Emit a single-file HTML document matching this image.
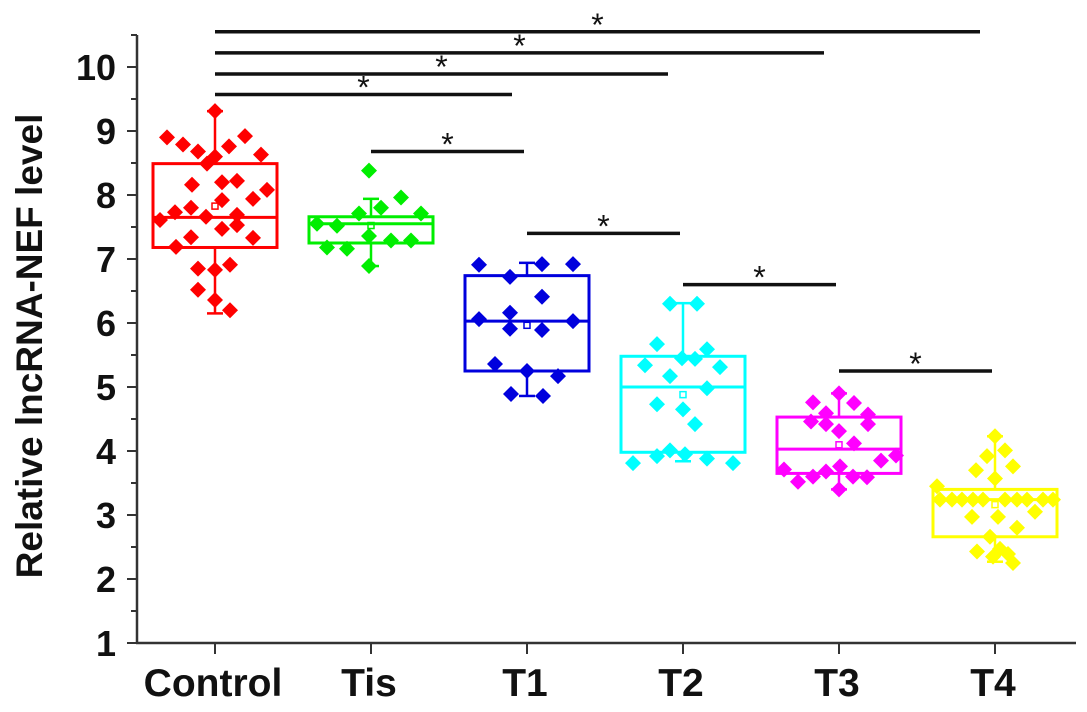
<!DOCTYPE html>
<html><head><meta charset="utf-8"><style>
body{margin:0;background:#fff}
svg{display:block;font-family:"Liberation Sans",Arial,sans-serif;font-weight:bold}
</style></head><body>
<svg id="chart" width="1087" height="712" viewBox="0 0 1087 712" xmlns="http://www.w3.org/2000/svg"></svg>
<script>
const categories = ["Control","Tis","T1","T2","T3","T4"];
const colors = ["#ff0000","#00ee00","#0000dd","#00ffff","#ff00ff","#ffff00"];
const boxQ3 = [8.49,7.66,6.74,5.48,4.53,3.40];
const boxMedian = [7.65,7.55,6.03,5.00,4.03,3.24];
const boxQ1 = [7.18,7.25,5.25,3.98,3.65,2.66];
const whiskerHigh = [9.31,7.94,6.94,6.31,4.90,4.23];
const whiskerLow = [6.15,6.89,4.86,3.84,3.40,2.27];
const pointsControl = [9.31,8.90,8.79,8.68,8.60,8.76,8.92,8.63,8.49,8.16,8.20,8.22,8.08,7.92,7.94,7.80,7.73,7.61,7.66,7.69,7.53,7.47,7.34,7.33,7.19,6.85,6.83,6.91,6.52,6.36,6.20];
const jitterControl = [0,-48,-32,-17,0,14,30,46,-8,-23,7,22,52,7,38,-24,-40,-55,-9,22,22,7,-24,38,-39,-17,0,15,-17,0,15];
const pointsTis = [8.38,7.96,7.80,7.71,7.71,7.55,7.52,7.36,7.29,7.29,7.18,7.16,6.89];
const jitterTis = [-2,30,10,-12,50,-54,-34,-2,20,40,-44,-24,-2];
const pointsT1 = [6.91,6.92,6.92,6.72,6.41,6.06,6.16,5.91,5.89,6.03,5.36,5.25,5.17,4.89,4.86];
const jitterT1 = [-48,15,46,-17,15,-48,-17,-17,15,46,-32,0,31,-16,16];
const pointsT2 = [6.30,6.30,5.67,5.34,5.45,5.44,5.59,5.31,5.17,4.98,4.73,4.65,4.42,4.01,3.92,3.95,3.81,3.88,3.81];
const jitterT2 = [-13,14,-26,-38,-1,12,24,37,-13,24,-26,0,12,-13,-26,2,-50,24,50];
const pointsT3 = [4.90,4.76,4.75,4.59,4.57,4.46,4.42,4.42,4.31,4.12,3.85,3.93,3.71,3.52,3.60,3.68,3.76,3.60,3.59,3.40];
const jitterT3 = [0,-26,15,-13,29,-28,-13,29,0,15,42,57,-55,-41,-26,-13,1,14,28,0];
const pointsT4 = [4.23,3.92,4.01,3.70,3.76,3.57,3.45,3.24,3.24,3.24,3.24,3.24,3.24,3.24,3.24,3.24,3.24,3.05,2.97,2.97,2.80,2.66,2.43,2.35,2.39,2.25,2.47];
const jitterT4 = [0,-8,10,-19,18,0,-58,-55,-43,-33,-22,-12,10,22,32,48,58,40,-23,3,22,-5,-18,-2,13,18,5];
const allPoints = [pointsControl,pointsTis,pointsT1,pointsT2,pointsT3,pointsT4];
const allJitter = [jitterControl,jitterTis,jitterT1,jitterT2,jitterT3,jitterT4];
const sigFrom = [0,0,0,0,1,2,3,4];
const sigTo = [5,4,3,2,2,3,4,5];
const sigLevel = [10.55,10.22,9.89,9.57,8.68,7.40,6.60,5.25];
const yTicks = [1,2,3,4,5,6,7,8,9,10];

const NS="http://www.w3.org/2000/svg";
const svg=document.getElementById('chart');
const X0=137, Y0=643;
const yS=v=>Y0-(v-1)*64;
const xS=i=>215+i*156;
function mk(tag,attrs,parent){const e=document.createElementNS(NS,tag);for(const k in attrs)e.setAttribute(k,attrs[k]);(parent||svg).appendChild(e);return e;}

let ax=mk('line',{x1:X0,y1:35,x2:X0,y2:Y0,stroke:'#333','stroke-width':2.5});


let bx=mk('line',{x1:X0-1,y1:Y0,x2:1076,y2:Y0,stroke:'#333','stroke-width':2.5});


mk('line',{x1:X0-6,y1:35,x2:X0,y2:35,stroke:'#333','stroke-width':2});
yTicks.forEach(t=>{
  const y=yS(t);
  mk('line',{x1:X0-10,y1:y,x2:X0,y2:y,stroke:'#333','stroke-width':2});
  if(t<10) mk('line',{x1:X0-6,y1:yS(t+0.5),x2:X0,y2:yS(t+0.5),stroke:'#333','stroke-width':2});
  const tx=mk('text',{x:X0-21,y:y+13,'text-anchor':'end','font-size':36,fill:'#111'});
  tx.textContent=t;
  
  
});
const yl=mk('text',{x:0,y:0,transform:'translate(42,346) rotate(-90)','text-anchor':'middle','font-size':37,fill:'#111'});
yl.textContent='Relative lncRNA-NEF level';



categories.forEach((c,i)=>{
  const x=xS(i);
  mk('line',{x1:x,y1:Y0,x2:x,y2:Y0+11,stroke:'#333','stroke-width':2});
  const t=mk('text',{x:x-2,y:696,'text-anchor':'middle','font-size':39,fill:'#111'});
  t.textContent=c;
  
  
  const g=mk('g',{});
  
  
  const col=colors[i], hw=62;
  mk('line',{x1:x,y1:yS(whiskerHigh[i]),x2:x,y2:yS(boxQ3[i]),stroke:col,'stroke-width':2.5},g);
  mk('line',{x1:x,y1:yS(whiskerLow[i]),x2:x,y2:yS(boxQ1[i]),stroke:col,'stroke-width':2.5},g);
  mk('line',{x1:x-8,y1:yS(whiskerHigh[i]),x2:x+8,y2:yS(whiskerHigh[i]),stroke:col,'stroke-width':2.5},g);
  mk('line',{x1:x-8,y1:yS(whiskerLow[i]),x2:x+8,y2:yS(whiskerLow[i]),stroke:col,'stroke-width':2.5},g);
  mk('rect',{x:x-hw,y:yS(boxQ3[i]),width:2*hw,height:yS(boxQ1[i])-yS(boxQ3[i]),fill:'none',stroke:col,'stroke-width':3},g);
  mk('line',{x1:x-hw,y1:yS(boxMedian[i]),x2:x+hw,y2:yS(boxMedian[i]),stroke:col,'stroke-width':3},g);
  const pts=allPoints[i], jit=allJitter[i];
  const mean=pts.reduce((a,b)=>a+b,0)/pts.length;
  mk('rect',{x:x-3,y:yS(mean)-3,width:6,height:6,fill:'none',stroke:col,'stroke-width':1.5},g);
  pts.forEach((v,k)=>{
    const px=x+jit[k], py=yS(v), r=8;
    const d=mk('polygon',{points:`${px},${py-r} ${px+r},${py} ${px},${py+r} ${px-r},${py}`,fill:col},g);
    
    
  });
});

sigLevel.forEach((lv,k)=>{
  const x1=xS(sigFrom[k]), x2=xS(sigTo[k])-(sigFrom[k]===0?15:3), y=yS(lv);
  const l=mk('line',{x1:x1,y1:y,x2:x2,y2:y,stroke:'#111','stroke-width':3.5});
  
  
  const s=mk('text',{x:(x1+x2)/2,y:y+4,'text-anchor':'middle','font-size':32,'font-weight':'normal',fill:'#111'});
  s.textContent='*';
  
  
});
</script>
</body></html>
